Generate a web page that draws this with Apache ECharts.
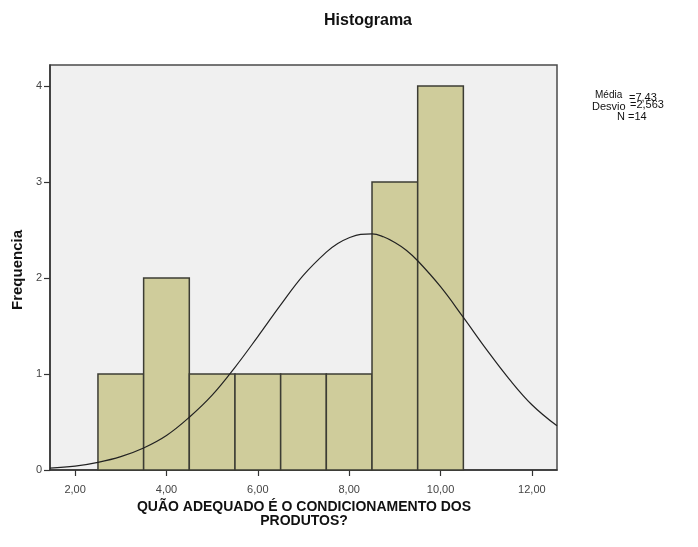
<!DOCTYPE html>
<html>
<head>
<meta charset="utf-8">
<script src="https://cdn.jsdelivr.net/npm/echarts@6/dist/echarts.min.js"></script>
<style>
html,body{margin:0;padding:0;background:#fff;}
#chart{width:698px;height:547px;}
</style>
</head>
<body>
<div id="chart"></div>
<script>
// Histogram bins (lower/upper edges) and frequencies
const binLower = [2.5, 3.5, 4.5, 5.5, 6.5, 7.5, 8.5, 9.5];
const binUpper = [3.5, 4.5, 5.5, 6.5, 7.5, 8.5, 9.5, 10.5];
const counts   = [1, 2, 1, 1, 1, 1, 3, 4];

// Normal curve
const curveX = [1.45, 2.0, 2.5, 3.0, 3.5, 4.0, 4.5, 5.0, 5.5, 6.0, 6.5, 7.0, 7.5, 7.75, 8.0, 8.25, 8.5, 8.75, 9.0, 9.25, 9.5, 10.0, 10.5, 11.0, 11.5, 12.0, 12.55];
const curveY = [0.02, 0.04, 0.08, 0.14, 0.23, 0.36, 0.55, 0.78, 1.07, 1.39, 1.72, 2.03, 2.27, 2.36, 2.42, 2.455, 2.46, 2.43, 2.37, 2.29, 2.18, 1.91, 1.59, 1.26, 0.95, 0.68, 0.46];

// Tick labels
const xTicks = [2, 4, 6, 8, 10, 12];
const yTicks = [0, 1, 2, 3, 4];

// Summary stats text
const statLabels = ['Média', 'Desvio', 'N'];
const statValues = ['=7,43', '=2,563', '=14'];

const titleText = 'Histograma';
const xName = ['QUÃO ADEQUADO É O CONDICIONAMENTO DOS', 'PRODUTOS?'];
const yName = 'Frequencia';

const FONT = '"Liberation Sans", Arial, sans-serif';

const chart = echarts.init(document.getElementById('chart'), null, {renderer: 'canvas'});

const barData = binLower.map((lo, i) => [lo, binUpper[i], counts[i]]);
const lineData = curveX.map((x, i) => [x, curveY[i]]);

const option = {
  animation: false,
  backgroundColor: '#ffffff',
  grid: {
    left: 50, right: 141, top: 65, bottom: 77,
    show: true, backgroundColor: '#f0f0f0', borderColor: '#4a4a4a', borderWidth: 1.5
  },
  xAxis: {
    type: 'value', min: 1.45, max: 12.55,
    splitLine: {show: false},
    axisLine: {show: true, onZero: false, lineStyle: {color: '#333', width: 1.5}},
    axisTick: {show: true, length: 6, customValues: xTicks, lineStyle: {color: '#333', width: 1.2}},
    axisLabel: {
      customValues: xTicks, color: '#444', fontSize: 11, fontFamily: FONT, margin: 14,
      formatter: v => v.toFixed(2).replace('.', ',')
    }
  },
  yAxis: {
    type: 'value', min: 0, max: 4.22,
    splitLine: {show: false},
    axisLine: {show: true, lineStyle: {color: '#333', width: 1.5}},
    axisTick: {show: true, length: 6, customValues: yTicks, lineStyle: {color: '#333', width: 1.2}},
    axisLabel: {customValues: yTicks, color: '#444', fontSize: 11, fontFamily: FONT, margin: 8,
      formatter: v => String(v)}
  },
  series: [
    {
      type: 'custom',
      data: barData,
      z: 2,
      renderItem: function (params, api) {
        const p0 = api.coord([api.value(0), 0]);
        const p1 = api.coord([api.value(1), api.value(2)]);
        return {
          type: 'rect',
          shape: {x: p0[0], y: p1[1], width: p1[0] - p0[0], height: p0[1] - p1[1]},
          style: {fill: '#cfcc9b', stroke: '#3c3c34', lineWidth: 1.5}
        };
      }
    },
    {
      type: 'line',
      data: lineData,
      smooth: 0.4,
      showSymbol: false,
      z: 5,
      lineStyle: {color: '#222', width: 1.2},
      clip: true
    }
  ],
  graphic: [
    {type: 'text', style: {text: titleText, x: 368, y: 21, align: 'center', verticalAlign: 'middle',
      font: 'bold 16px ' + FONT, fill: '#111'}},
    {type: 'text', style: {text: xName[0], x: 304, y: 507, align: 'center', verticalAlign: 'middle',
      font: 'bold 14px ' + FONT, fill: '#111'}},
    {type: 'text', style: {text: xName[1], x: 304, y: 521, align: 'center', verticalAlign: 'middle',
      font: 'bold 14px ' + FONT, fill: '#111'}},
    {type: 'text', x: 18, y: 270, rotation: Math.PI / 2,
      style: {text: yName, x: 0, y: 0, align: 'center', verticalAlign: 'middle',
      font: 'bold 15px ' + FONT, fill: '#111'}},
    {type: 'text', style: {text: statLabels[0], x: 595, y: 95, verticalAlign: 'middle', font: '10px ' + FONT, fill: '#111'}},
    {type: 'text', style: {text: statValues[0], x: 629, y: 98, verticalAlign: 'middle', font: '11px ' + FONT, fill: '#111'}},
    {type: 'text', style: {text: statLabels[1], x: 592, y: 107, verticalAlign: 'middle', font: '11px ' + FONT, fill: '#111'}},
    {type: 'text', style: {text: statValues[1], x: 630, y: 105, verticalAlign: 'middle', font: '11px ' + FONT, fill: '#111'}},
    {type: 'text', style: {text: statLabels[2] + ' ' + statValues[2], x: 617, y: 117, verticalAlign: 'middle', font: '11px ' + FONT, fill: '#111'}}
  ]
};
chart.setOption(option);
</script>
</body>
</html>
